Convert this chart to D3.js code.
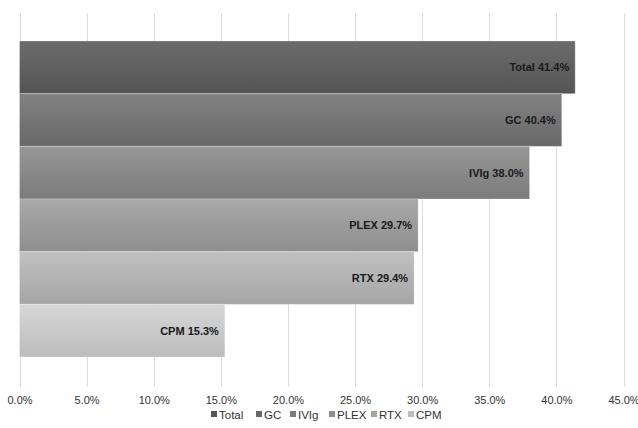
<!DOCTYPE html>
<html>
<head>
<meta charset="utf-8">
<script src="https://cdn.jsdelivr.net/npm/d3@7"></script>
<style>
  body { margin: 0; background: #fff; }
  text { font-family: "Liberation Sans", Arial, sans-serif; }
</style>
</head>
<body>
<div id="chart"></div>
<script>
// data
const categories = ["Total", "GC", "IVIg", "PLEX", "RTX", "CPM"];
const values = [41.4, 40.4, 38.0, 29.7, 29.4, 15.3];
const tickValues = [0, 5, 10, 15, 20, 25, 30, 35, 40, 45];
const topColors = ["#6c6c6c", "#828282", "#979797", "#a9a9a9", "#c1c1c1", "#d7d7d7"];
const bottomColors = ["#545454", "#686868", "#7b7b7b", "#8e8e8e", "#a5a5a5", "#bcbcbc"];

let svgWidth = 638,
  svgHeight = 428,
  margin = { left: 19.5, right: 15 },
  gridTop = 13,
  gridBottom = 387,
  barTop = 41,
  barBottom = 357;

let svg = d3
  .select("#chart")
  .append("svg")
  .attr("width", svgWidth)
  .attr("height", svgHeight);

let x = d3.scaleLinear().domain([0, 45]).range([margin.left, 623.5]);
let y = d3
  .scaleBand()
  .domain(categories)
  .range([barTop, barBottom])
  .padding(0);

// gradients
let defs = svg.append("defs");
categories.forEach((c, i) => {
  let g = defs
    .append("linearGradient")
    .attr("id", "grad" + i)
    .attr("x1", 0)
    .attr("y1", 0)
    .attr("x2", 0)
    .attr("y2", 1);
  g.append("stop").attr("offset", "0%").attr("stop-color", topColors[i]);
  g.append("stop").attr("offset", "100%").attr("stop-color", bottomColors[i]);
});

// gridlines
svg
  .append("g")
  .selectAll("line")
  .data(tickValues)
  .enter()
  .append("line")
  .attr("x1", d => Math.round(x(d)) + 0.5)
  .attr("x2", d => Math.round(x(d)) + 0.5)
  .attr("y1", gridTop)
  .attr("y2", gridBottom)
  .attr("stroke", "#dcdcdc")
  .attr("stroke-width", 1);

// bars
svg
  .append("g")
  .selectAll("rect")
  .data(categories)
  .enter()
  .append("rect")
  .attr("x", x(0))
  .attr("y", d => y(d))
  .attr("width", (d, i) => x(values[i]) - x(0))
  .attr("height", y.bandwidth())
  .attr("fill", (d, i) => `url(#grad${i})`)
  .attr("stroke", "rgba(255,255,255,0.25)")
  .attr("stroke-width", 1);

// value labels
svg
  .append("g")
  .selectAll("text")
  .data(categories)
  .enter()
  .append("text")
  .attr("x", (d, i) => x(values[i]) - 6)
  .attr("y", d => y(d) + y.bandwidth() / 2 + 4)
  .attr("text-anchor", "end")
  .attr("font-size", 11)
  .attr("font-weight", "bold")
  .attr("fill", "#1a1a1a")
  .text((d, i) => `${d} ${values[i].toFixed(1)}%`);

// x axis
let xAxis = d3
  .axisBottom(x)
  .tickValues(tickValues)
  .tickSize(0)
  .tickFormat(d => d.toFixed(1) + "%");

let axisG = svg
  .append("g")
  .attr("transform", "translate(0,393)")
  .call(xAxis);
axisG.select(".domain").remove();
axisG
  .selectAll("text")
  .attr("font-size", 11)
  .attr("fill", "#333")
  .attr("font-family", "Liberation Sans, Arial, sans-serif");

// legend
const legendX = [211, 256, 290, 329, 371, 408];
let legend = svg
  .append("g")
  .selectAll("g")
  .data(categories)
  .enter()
  .append("g")
  .attr("transform", (d, i) => `translate(${legendX[i]},414)`);

legend
  .append("rect")
  .attr("x", 0)
  .attr("y", -3)
  .attr("width", 6)
  .attr("height", 6)
  .attr("fill", (d, i) => bottomColors[i]);

legend
  .append("text")
  .attr("x", 8)
  .attr("y", 4.5)
  .attr("font-size", 11.5)
  .attr("fill", "#333")
  .text(d => d);
</script>
</body>
</html>
